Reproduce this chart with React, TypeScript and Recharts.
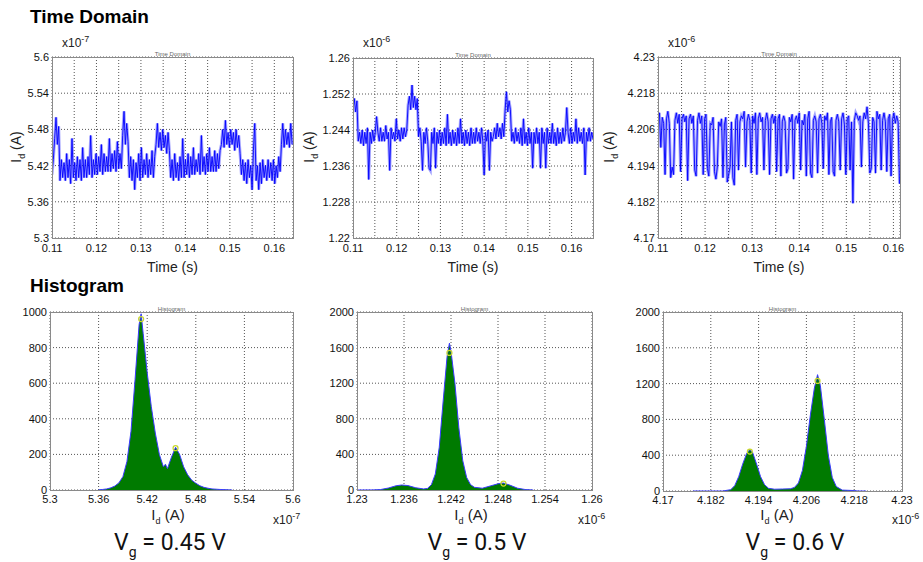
import { ComposedChart, Line, Area, Scatter, XAxis, YAxis, CartesianGrid } from 'recharts';

const FONT = '"Liberation Sans", Arial, sans-serif';

// sampling grid of the time traces (s)
const TIME_START = 0.11;
const TIME_STEP = 0.0003;

// Vg = 0.45 V, Id in units of 1e-7 A
const trace1 = [
  5.405, 5.43,
  5.465, 5.5, 5.455, 5.485,
  5.395, 5.43, 5.4, 5.425, 5.395, 5.44, 5.4, 5.43, 5.39, 5.465,
  5.4, 5.425, 5.395, 5.435, 5.4, 5.43, 5.395, 5.45, 5.4, 5.43,
  5.4, 5.435, 5.405, 5.47, 5.4, 5.43, 5.405, 5.44, 5.405, 5.435,
  5.41, 5.455, 5.405, 5.44, 5.41, 5.435, 5.41, 5.465, 5.41, 5.44,
  5.415, 5.445, 5.41, 5.46, 5.415, 5.44, 5.415,
  5.47, 5.51, 5.455, 5.49, 5.46,
  5.4, 5.435, 5.395, 5.43, 5.38, 5.425, 5.4, 5.44, 5.395, 5.45,
  5.4, 5.43, 5.405, 5.44, 5.4, 5.43, 5.405, 5.445, 5.4, 5.435,
  5.455, 5.49, 5.45, 5.475, 5.445, 5.48, 5.45, 5.47, 5.44, 5.475, 5.445,
  5.4, 5.43, 5.395, 5.44, 5.4, 5.425, 5.395, 5.435, 5.4, 5.465,
  5.4, 5.43, 5.405, 5.44, 5.4, 5.435, 5.405, 5.45, 5.405, 5.43,
  5.41, 5.44, 5.405, 5.47, 5.41, 5.435, 5.405, 5.44, 5.41, 5.45,
  5.41, 5.435, 5.41, 5.445, 5.41, 5.44, 5.415, 5.445,
  5.455, 5.48, 5.45, 5.495, 5.455, 5.475, 5.45, 5.48, 5.455, 5.475, 5.445, 5.48, 5.45, 5.47, 5.44,
  5.405, 5.43, 5.395, 5.425, 5.39, 5.43, 5.4, 5.42, 5.38,
  5.445, 5.49,
  5.395, 5.42, 5.38, 5.425, 5.39, 5.43, 5.4, 5.42, 5.395, 5.43,
  5.4, 5.425, 5.395, 5.43, 5.39, 5.42, 5.4, 5.435, 5.41,
  5.455, 5.49, 5.45, 5.48, 5.455, 5.475, 5.45, 5.49, 5.455,
];

// Vg = 0.5 V, Id in units of 1e-6 A
const trace2 = [
  1.2485, 1.251, 1.248, 1.2505,
  1.2415, 1.2435, 1.241, 1.244, 1.2405, 1.2435, 1.241, 1.2445, 1.233, 1.2435,
  1.241, 1.244, 1.2415, 1.2435, 1.247, 1.2435, 1.2415, 1.2445, 1.2415, 1.2435,
  1.2415, 1.245, 1.242, 1.2435, 1.235, 1.2445, 1.242, 1.2435, 1.2415, 1.2465,
  1.242, 1.244, 1.2415, 1.2445, 1.242, 1.2445, 1.2425, 1.244,
  1.2495, 1.2515, 1.2485, 1.254, 1.249, 1.2515, 1.2485, 1.251,
  1.2425, 1.2445, 1.2415, 1.235, 1.2435, 1.241, 1.2445, 1.2415, 1.2355, 1.235,
  1.2435, 1.241, 1.2445, 1.2355, 1.2435, 1.241, 1.244, 1.2405, 1.2435, 1.241,
  1.2445, 1.2405, 1.2475, 1.241, 1.2435, 1.2405, 1.244, 1.241, 1.2435, 1.2405,
  1.2445, 1.241, 1.2465, 1.241, 1.2435, 1.2405, 1.244, 1.241, 1.2435, 1.2405,
  1.2445, 1.241, 1.2435, 1.241, 1.2445, 1.2415, 1.2435, 1.241, 1.2445, 1.2415,
  1.234, 1.2435, 1.2415, 1.244, 1.235, 1.2435, 1.2415,
  1.2425, 1.2445, 1.242, 1.2455, 1.2425, 1.2445, 1.242, 1.2455, 1.2425,
  1.2485, 1.2525, 1.248, 1.2505, 1.2485,
  1.2415, 1.2435, 1.241, 1.2445, 1.2415, 1.2435, 1.241, 1.2445, 1.2405, 1.2465,
  1.241, 1.2435, 1.2405, 1.2445, 1.241, 1.2435, 1.2355, 1.2435, 1.241, 1.2445,
  1.241, 1.2435, 1.2355, 1.2445, 1.241, 1.2435, 1.2355, 1.2445, 1.241, 1.2435,
  1.241, 1.2455, 1.241, 1.2435, 1.2405, 1.2445, 1.241, 1.2435, 1.241, 1.2445,
  1.2415, 1.2435, 1.249, 1.2435, 1.241, 1.2445, 1.241, 1.2435, 1.2415, 1.2465,
  1.241, 1.2445, 1.2415, 1.2435, 1.241, 1.2445, 1.234, 1.2435, 1.2415, 1.2445,
  1.2415, 1.2435, 1.242,
];

// Vg = 0.6 V, Id in units of 1e-6 A
const trace3 = [
  4.209, 4.2115, 4.2, 4.21, 4.208, 4.191, 4.2095, 4.212, 4.208, 4.19,
  4.1935, 4.191, 4.209, 4.2115, 4.208, 4.211, 4.192, 4.2095, 4.211, 4.2085,
  4.2105, 4.189, 4.2095, 4.211, 4.208, 4.2105, 4.1925, 4.1905, 4.209, 4.2115,
  4.208, 4.2105, 4.191, 4.2095, 4.211, 4.193, 4.1905, 4.208, 4.2075, 4.21,
  4.192, 4.1895, 4.1935, 4.2085, 4.207, 4.2095, 4.19, 4.2075, 4.21, 4.1885,
  4.191, 4.1935, 4.2085, 4.19, 4.1875, 4.209, 4.211, 4.1925, 4.2085, 4.2105,
  4.2095, 4.212, 4.1935, 4.2085, 4.211, 4.209, 4.1915, 4.2105, 4.208, 4.2115,
  4.191, 4.2095, 4.2115, 4.2085, 4.21, 4.1925, 4.209, 4.2115, 4.2085, 4.191,
  4.2095, 4.211, 4.208, 4.2105, 4.192, 4.2095, 4.211, 4.1905, 4.2085, 4.2105,
  4.2085, 4.1915, 4.193, 4.21, 4.2085, 4.211, 4.1895, 4.209, 4.2105, 4.208,
  4.2115, 4.1925, 4.209, 4.2075, 4.211, 4.1905, 4.2095, 4.212, 4.1915, 4.19,
  4.209, 4.2105, 4.2085, 4.1915, 4.2095, 4.211, 4.208, 4.193, 4.2105, 4.209,
  4.2115, 4.191, 4.2085, 4.21, 4.192, 4.1905, 4.209, 4.211, 4.2085, 4.1925,
  4.2095, 4.2115, 4.2075, 4.191, 4.2095, 4.2105, 4.1925, 4.2085, 4.1815, 4.209,
  4.2115, 4.2105, 4.209, 4.2105, 4.1935, 4.2085, 4.2115, 4.2095, 4.2135, 4.208,
  4.1915, 4.193, 4.21, 4.2085, 4.1915, 4.212, 4.2095, 4.211, 4.1925, 4.209,
  4.2115, 4.2085, 4.192, 4.2095, 4.211, 4.1905, 4.209, 4.2115, 4.208, 4.2105,
  4.2085, 4.188,
];

const timeTicks = [0.11, 0.115, 0.12, 0.125, 0.13, 0.135, 0.14, 0.145, 0.15, 0.155, 0.16];
const yTicks1 = [5.3, 5.36, 5.42, 5.48, 5.54, 5.6];
const yTicks2 = [1.22, 1.228, 1.236, 1.244, 1.252, 1.26];
const yTicks3 = [4.17, 4.182, 4.194, 4.206, 4.218, 4.23];

// histograms: bin centre (same units as the trace) and counts
const hist1X = [5.36, 5.365, 5.37, 5.375, 5.38, 5.385, 5.39, 5.395, 5.4, 5.405, 5.41, 5.4125, 5.415, 5.42, 5.425, 5.43, 5.435, 5.44, 5.4425, 5.445, 5.45, 5.455, 5.46, 5.465, 5.47, 5.475, 5.48, 5.485, 5.49, 5.495, 5.5, 5.51, 5.52, 5.525];
const hist1Y = [1, 3, 6, 12, 22, 40, 75, 160, 330, 620, 930, 990, 880, 660, 470, 320, 200, 130, 145, 120, 185, 240, 200, 130, 85, 55, 38, 24, 15, 10, 6, 3, 1, 0];
const hist2X = [1.23, 1.232, 1.233, 1.234, 1.235, 1.2357, 1.2365, 1.2375, 1.2385, 1.239, 1.2395, 1.24, 1.2405, 1.241, 1.2415, 1.2418, 1.242, 1.2425, 1.243, 1.2435, 1.244, 1.2445, 1.245, 1.246, 1.247, 1.248, 1.2487, 1.2495, 1.2505, 1.2515, 1.2525];
const hist2Y = [0, 1, 5, 22, 48, 56, 50, 25, 12, 18, 60, 180, 480, 1000, 1500, 1650, 1560, 1200, 700, 330, 140, 60, 30, 20, 45, 70, 78, 55, 20, 5, 0];
const hist3X = [4.1775, 4.185, 4.187, 4.188, 4.189, 4.19, 4.191, 4.1918, 4.1925, 4.1935, 4.1945, 4.1955, 4.1965, 4.198, 4.2, 4.202, 4.203, 4.204, 4.205, 4.206, 4.207, 4.208, 4.2088, 4.2095, 4.2105, 4.2115, 4.2125, 4.2135, 4.215, 4.2175, 4.219, 4.221];
const hist3Y = [0, 0, 15, 60, 160, 300, 420, 465, 430, 300, 160, 70, 30, 20, 22, 25, 40, 90, 230, 500, 850, 1150, 1300, 1180, 800, 400, 150, 50, 10, 6, 0, 0];

const peaks1X = [5.4125, 5.455];
const peaks1Y = [960, 235];
const peaks2X = [1.2418, 1.2487];
const peaks2Y = [1540, 72];
const peaks3X = [4.1918, 4.2088];
const peaks3Y = [440, 1230];

const histTicks1 = [5.3, 5.36, 5.42, 5.48, 5.54, 5.6];
const histTicks2 = [1.23, 1.236, 1.242, 1.248, 1.254, 1.26];
const histTicks3 = [4.17, 4.182, 4.194, 4.206, 4.218, 4.23];
const countTicks1 = [0, 200, 400, 600, 800, 1000];
const countTicks2 = [0, 400, 800, 1200, 1600, 2000];

const toTrace = (vals: number[]) => vals.map((v, i) => ({ t: TIME_START + i * TIME_STEP, v }));
const toHist = (xs: number[], ys: number[]) => xs.map((x, i) => ({ x, y: ys[i] }));

type Box = { x: number; y: number; w: number; h: number };

const box1: Box = { x: 52, y: 57, w: 241, h: 181 };
const box2: Box = { x: 353, y: 58, w: 240, h: 180 };
const box3: Box = { x: 658, y: 57, w: 242, h: 181 };
const hbox1: Box = { x: 50, y: 312, w: 243, h: 178 };
const hbox2: Box = { x: 357, y: 312, w: 235, h: 178 };
const hbox3: Box = { x: 663, y: 312, w: 239, h: 179 };

const YW = 46;
const MT = 10;
const MR = 14;
const XH = 24;

const tickStyle = { fontSize: 11, fill: '#111', fontFamily: FONT };
const fmtTime = (v: number) => (Math.round(v * 1000) % 10 === 0 ? v.toFixed(2) : '');

function TimePanel(props: { box: Box; data: { t: number; v: number }[]; xMax: number; yTicks: number[] }) {
  const { box, data, xMax, yTicks } = props;
  return (
    <div style={{ position: 'absolute', left: box.x - YW, top: box.y - MT }}>
      <ComposedChart width={YW + box.w + MR} height={MT + box.h + XH} data={data} margin={{ top: MT, right: MR, bottom: 0, left: 0 }}>
        <CartesianGrid stroke="#555" strokeDasharray="1 2" />
        <XAxis type="number" dataKey="t" domain={[0.11, xMax]} ticks={timeTicks.filter((t) => t <= xMax)} interval={0}
          allowDataOverflow tickFormatter={fmtTime} height={XH} tickLine={false} axisLine={false} tickSize={0} tickMargin={6} tick={tickStyle} />
        <YAxis type="number" domain={[yTicks[0], yTicks[yTicks.length - 1]]} ticks={yTicks} interval={0} allowDataOverflow
          width={YW} tickLine={false} axisLine={false} tickSize={0} tickMargin={3} tick={tickStyle} />
        {/* soft wide stroke under the trace fills the gaps of the dense noise */}
        <Line type="linear" dataKey="v" stroke="#0000ff" strokeOpacity={0.35} strokeWidth={3} dot={false} isAnimationActive={false} />
        <Line type="linear" dataKey="v" stroke="#0000ff" strokeOpacity={0.9} strokeWidth={1} dot={false} isAnimationActive={false} />
      </ComposedChart>
    </div>
  );
}

function HistPanel(props: { box: Box; data: { x: number; y: number }[]; peaks: { x: number; y: number }[]; xTicks: number[]; yTicks: number[] }) {
  const { box, data, peaks, xTicks, yTicks } = props;
  return (
    <div style={{ position: 'absolute', left: box.x - YW, top: box.y - MT }}>
      <ComposedChart width={YW + box.w + MR} height={MT + box.h + XH} data={data} margin={{ top: MT, right: MR, bottom: 0, left: 0 }}>
        <CartesianGrid stroke="#555" strokeDasharray="1 2" />
        <XAxis type="number" dataKey="x" domain={[xTicks[0], xTicks[xTicks.length - 1]]} ticks={xTicks} interval={0}
          allowDataOverflow height={XH} tickLine={false} axisLine={false} tickSize={0} tickMargin={5} tick={tickStyle} />
        <YAxis type="number" domain={[yTicks[0], yTicks[yTicks.length - 1]]} ticks={yTicks} interval={0} allowDataOverflow
          width={YW} tickLine={false} axisLine={false} tickSize={0} tickMargin={3} tick={tickStyle} />
        <Area type="linear" dataKey="y" stroke="#3a3aff" strokeWidth={1} fill="#007a00" fillOpacity={1} isAnimationActive={false} />
        <Scatter data={peaks} dataKey="y" isAnimationActive={false}
          shape={(p: any) => <circle cx={p.cx} cy={p.cy} r={2.5} fill="none" stroke="#c8d82a" strokeWidth={1.2} />} />
      </ComposedChart>
    </div>
  );
}

function Frame({ box }: { box: Box }) {
  return <rect x={box.x + 0.5} y={box.y + 0.5} width={box.w} height={box.h} fill="none" stroke="#8a8a8a" strokeWidth={1} />;
}

function SmallTitle({ box, text }: { box: Box; text: string }) {
  return (
    <text x={box.x + box.w / 2} y={box.y - 1} textAnchor="middle" fontSize={6} fill="#666" fontFamily={FONT}>{text}</text>
  );
}

function Exponent({ x, y, exp }: { x: number; y: number; exp: string }) {
  return (
    <text x={x} y={y} fontSize={12} fill="#222" fontFamily={FONT}>
      x10<tspan dy={-5} fontSize={9}>{exp}</tspan>
    </text>
  );
}

function IdLabel({ x, y, rotate }: { x: number; y: number; rotate?: boolean }) {
  return (
    <text transform={`translate(${x},${y})${rotate ? ' rotate(-90)' : ''}`} textAnchor="middle" fontSize={rotate ? 14 : 15} fill="#222" fontFamily={FONT}>
      I<tspan dy={4} fontSize={9}>d</tspan><tspan dy={-4}> (A)</tspan>
    </text>
  );
}

function VgLabel({ x, y, value }: { x: number; y: number; value: string }) {
  return (
    <text x={x} y={y} textAnchor="middle" fontSize={23} fill="#111" fontFamily="Roboto, sans-serif">
      V<tspan dy={7} fontSize={14}>g</tspan><tspan dy={-7}>{` = ${value} V`}</tspan>
    </text>
  );
}

export default function App() {
  return (
    <div style={{ position: 'absolute', left: 0, top: 0, width: 923, height: 562, background: '#fff', overflow: 'hidden' }}>
      <TimePanel box={box1} data={toTrace(trace1)} xMax={0.1642} yTicks={yTicks1} />
      <TimePanel box={box2} data={toTrace(trace2)} xMax={0.1649} yTicks={yTicks2} />
      <TimePanel box={box3} data={toTrace(trace3)} xMax={0.1614} yTicks={yTicks3} />
      <HistPanel box={hbox1} data={toHist(hist1X, hist1Y)} peaks={toHist(peaks1X, peaks1Y)} xTicks={histTicks1} yTicks={countTicks1} />
      <HistPanel box={hbox2} data={toHist(hist2X, hist2Y)} peaks={toHist(peaks2X, peaks2Y)} xTicks={histTicks2} yTicks={countTicks2} />
      <HistPanel box={hbox3} data={toHist(hist3X, hist3Y)} peaks={toHist(peaks3X, peaks3Y)} xTicks={histTicks3} yTicks={countTicks2} />
      <svg width={923} height={562} style={{ position: 'absolute', left: 0, top: 0, pointerEvents: 'none' }}>
        <text x={30} y={23} fontSize={19} fontWeight="bold" fill="#000" fontFamily={FONT}>Time Domain</text>
        <text x={30} y={292} fontSize={19} fontWeight="bold" fill="#000" fontFamily={FONT}>Histogram</text>

        {[box1, box2, box3, hbox1, hbox2, hbox3].map((b, i) => <Frame key={i} box={b} />)}
        <SmallTitle box={box1} text="Time Domain" />
        <SmallTitle box={box2} text="Time Domain" />
        <SmallTitle box={box3} text="Time Domain" />
        <SmallTitle box={hbox1} text="Histogram" />
        <SmallTitle box={hbox2} text="Histogram" />
        <SmallTitle box={hbox3} text="Histogram" />

        <Exponent x={62} y={47} exp="-7" />
        <Exponent x={363} y={47} exp="-6" />
        <Exponent x={668} y={47} exp="-6" />

        <IdLabel x={21} y={147} rotate />
        <IdLabel x={314} y={147} rotate />
        <IdLabel x={614} y={147} rotate />

        {[box1, box2, box3].map((b, i) => (
          <text key={i} x={b.x + b.w / 2} y={272} textAnchor="middle" fontSize={14} fill="#222" fontFamily={FONT}>Time (s)</text>
        ))}

        <IdLabel x={168} y={520} />
        <IdLabel x={471} y={520} />
        <IdLabel x={777} y={520} />

        <Exponent x={273} y={524} exp="-7" />
        <Exponent x={578} y={524} exp="-6" />
        <Exponent x={892} y={524} exp="-6" />

        <VgLabel x={170} y={550} value="0.45" />
        <VgLabel x={477} y={550} value="0.5" />
        <VgLabel x={795} y={550} value="0.6" />
      </svg>
    </div>
  );
}
